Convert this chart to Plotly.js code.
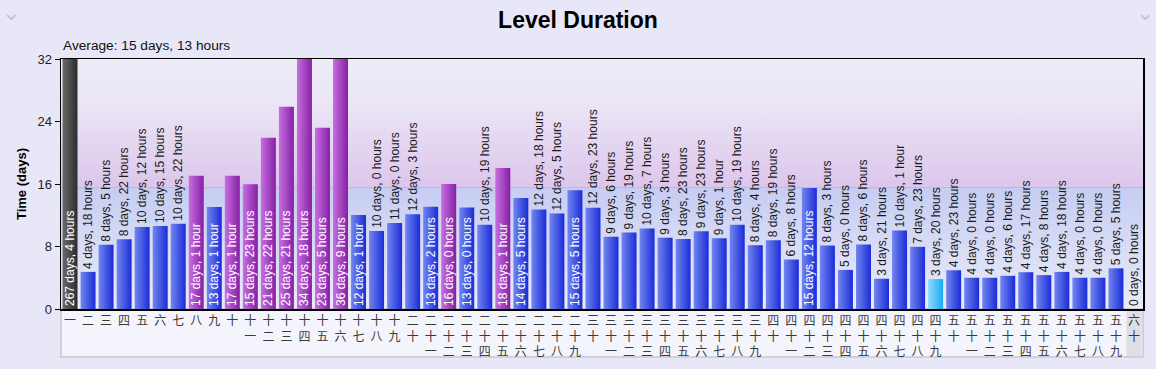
<!DOCTYPE html>
<html>
<head>
<meta charset="utf-8">
<script src="https://cdn.plot.ly/plotly-3.0.1.min.js"></script>
<style>
html,body{margin:0;padding:0;background:#e8e7f7;}
#chart{width:1156px;height:369px;}
</style>
</head>
<body>
<div id="chart"></div>
<script>
// ---- data ----
const levels = ['一','二','三','四','五','六','七','八','九','十',
  '十一','十二','十三','十四','十五','十六','十七','十八','十九','二十',
  '二十一','二十二','二十三','二十四','二十五','二十六','二十七','二十八','二十九','三十',
  '三十一','三十二','三十三','三十四','三十五','三十六','三十七','三十八','三十九','四十',
  '四十一','四十二','四十三','四十四','四十五','四十六','四十七','四十八','四十九','五十',
  '五十一','五十二','五十三','五十四','五十五','五十六','五十七','五十八','五十九','六十'];
const durationDays = [267,4,8,8,10,10,10,17,13,17,
  15,21,25,34,23,36,12,10,11,12,
  13,16,13,10,18,14,12,12,15,12,
  9,9,10,9,8,9,9,10,8,8,
  6,15,8,5,8,3,10,7,3,4,
  4,4,4,4,4,4,4,4,5,0];
const durationHours = [4,18,5,22,12,15,22,1,1,1,
  23,22,21,18,5,9,1,0,0,3,
  2,0,0,19,1,5,18,5,5,23,
  6,19,7,3,23,23,1,19,4,19,
  8,12,3,0,6,21,1,23,20,23,
  0,0,6,17,8,18,0,0,5,0];
const averageDays = 15;
const averageHours = 13;
const yTicks = [0, 8, 16, 24, 32];
const yMax = 32;

// ---- derived ----
const fmt = (d, h) => d + ' days, ' + h + (h === 1 ? ' hour' : ' hours');
const values = durationDays.map((d, i) => d + durationHours[i] / 24);
const labels = durationDays.map((d, i) => fmt(d, durationHours[i]));
const avg = averageDays + averageHours / 24;
const xIdx = levels.map((_, i) => i);
const tickText = levels.map(s => Array.from(s).join('<br>'));

// label placement as seen in the reference (1-based level numbers drawn inside)
const insideSet = new Set([1,8,9,10,11,12,13,14,15,16,17,21,22,23,25,26,29,42]);
const textPos = levels.map((_, i) => insideSet.has(i + 1) ? 'inside' : 'outside');

const kind = values.map((v, i) => i === 0 ? 'gray' : (i === 48 ? 'cyan' : (v > avg ? 'purple' : 'blue')));
const solid = {gray:'#4a4a4a', cyan:'#4cc4fb', purple:'#a640c0', blue:'#3a50e0'};

// background gradient image for plot area
const fa = ((yMax - avg) / yMax * 100).toFixed(2);
const bgSvg = '<svg xmlns="http://www.w3.org/2000/svg" width="100" height="100" preserveAspectRatio="none" viewBox="0 0 100 100">' +
  '<defs><linearGradient id="g" x1="0" y1="0" x2="0" y2="1">' +
  '<stop offset="0" stop-color="#eeecf9"/>' +
  '<stop offset="' + (fa*0.35).toFixed(2) + '%" stop-color="#ebe5f6"/>' +
  '<stop offset="' + fa + '%" stop-color="#dcc6ec"/>' +
  '<stop offset="' + fa + '%" stop-color="#c6cdf2"/>' +
  '<stop offset="100%" stop-color="#ebebf9"/>' +
  '</linearGradient></defs>' +
  '<rect x="0" y="0" width="100" height="100" fill="url(#g)"/></svg>';
const bgUri = 'data:image/svg+xml;charset=utf-8,' + encodeURIComponent(bgSvg);

const FONT = 'Liberation Sans, Arial, sans-serif';
const trace = {
  type: 'bar',
  x: xIdx,
  y: values,
  text: labels,
  textposition: textPos,
  textangle: -90,
  insidetextanchor: 'start',
  constraintext: 'none',
  cliponaxis: true,
  textfont: {family: FONT, size: 12},
  insidetextfont: {family: FONT, size: 12, color: '#ffffff'},
  outsidetextfont: {family: FONT, size: 12, color: '#1a1a1a'},
  marker: {color: kind.map(k => solid[k]), line: {width: 0}},
  hoverinfo: 'none'
};

const layout = {
  width: 1156, height: 369,
  margin: {l: 61, r: 13, t: 59, b: 60, pad: 0},
  paper_bgcolor: '#e8e7f7',
  plot_bgcolor: 'rgba(0,0,0,0)',
  bargap: 0.17,
  showlegend: false,
  font: {family: FONT, color: '#222'},
  title: {text: '<b>Level Duration</b>', x: 0.5, xanchor: 'center', y: 0.945, yanchor: 'middle',
          font: {size: 23, color: '#000', family: FONT}},
  xaxis: {
    range: [-0.5, levels.length - 0.5],
    tickvals: xIdx, ticktext: tickText,
    ticks: '', showgrid: false, zeroline: false,
    showline: true, linecolor: '#000', linewidth: 1.5, mirror: true,
    tickfont: {family: 'Noto Sans CJK SC, sans-serif', size: 12, color: '#3a3a3a'},
    tickangle: 0, fixedrange: true
  },
  yaxis: {
    range: [0, yMax], tickvals: yTicks, ticktext: yTicks.map(String),
    ticks: 'outside', ticklen: 5, tickcolor: '#000', tickwidth: 1,
    showgrid: false, zeroline: false,
    showline: true, linecolor: '#000', linewidth: 1.5, mirror: true,
    tickfont: {size: 13, color: '#222'},
    title: {text: '<b>Time (days)</b>', font: {size: 13, color: '#000'}, standoff: 8},
    fixedrange: true
  },
  images: [{
    source: bgUri, xref: 'paper', yref: 'y', x: 0, y: yMax, sizex: 1, sizey: yMax,
    sizing: 'stretch', xanchor: 'left', yanchor: 'top', layer: 'below'
  }],
  shapes: [
    {type: 'rect', xref: 'paper', yref: 'paper', x0: 0, x1: 1, y0: -0.192, y1: 0,
     fillcolor: '#f4f4fc', line: {color: '#c6c6d0', width: 1.5}, layer: 'below'},
    {type: 'rect', xref: 'x', yref: 'paper', x0: levels.length - 1 - 0.42, x1: levels.length - 1 + 0.42,
     y0: -0.188, y1: 0, fillcolor: '#dedee6', line: {width: 0}, layer: 'below'},
    {type: 'line', xref: 'paper', yref: 'y', x0: 0, x1: 1, y0: avg, y1: avg,
     line: {color: '#c4b4dc', width: 1}, layer: 'below'}
  ],
  annotations: [
    {text: 'Average: ' + fmt(averageDays, averageHours), xref: 'paper', yref: 'paper',
     x: 0, y: 1, xanchor: 'left', yanchor: 'bottom', xshift: 0, yshift: 4, showarrow: false,
     font: {size: 13.7, color: '#111'}},
    {text: '⌄', xref: 'paper', yref: 'paper', x: 0, xshift: -50, y: 1, yshift: 47, xanchor: 'center', yanchor: 'middle',
     showarrow: false, font: {family: 'DejaVu Sans', size: 22, color: '#c2c2d4'}},
    {text: '⌄', xref: 'paper', yref: 'paper', x: 1.0, xshift: 2, y: 1, yshift: 47, xanchor: 'center', yanchor: 'middle',
     showarrow: false, font: {family: 'DejaVu Sans', size: 22, color: '#c2c2d4'}}
  ]
};

Plotly.newPlot('chart', [trace], layout, {displayModeBar: false, staticPlot: true}).then(gd => {
  const svg = gd.querySelector('svg.main-svg');
  const NS = 'http://www.w3.org/2000/svg';
  const defs = document.createElementNS(NS, 'defs');
  const grads = {
    gray: ['#6a6a6a', '#2c2c2c'],
    cyan: ['#8ddcff', '#1aaaf6'],
    purple: ['#c86ee0', '#8420a4'],
    blue: ['#7286f0', '#1a2cd6']
  };
  Object.keys(grads).forEach(k => {
    const lg = document.createElementNS(NS, 'linearGradient');
    lg.setAttribute('id', 'bar-' + k);
    lg.setAttribute('x1', '0'); lg.setAttribute('y1', '0');
    lg.setAttribute('x2', '1'); lg.setAttribute('y2', '0');
    [[0, grads[k][0]], [1, grads[k][1]]].forEach(([o, c]) => {
      const st = document.createElementNS(NS, 'stop');
      st.setAttribute('offset', o);
      st.setAttribute('stop-color', c);
      lg.appendChild(st);
    });
    defs.appendChild(lg);
  });
  svg.insertBefore(defs, svg.firstChild);
  const paths = gd.querySelectorAll('.barlayer .trace .point path');
  paths.forEach((p, i) => { if (kind[i]) p.style.fill = 'url(#bar-' + kind[i] + ')'; });
});
</script>
</body>
</html>
